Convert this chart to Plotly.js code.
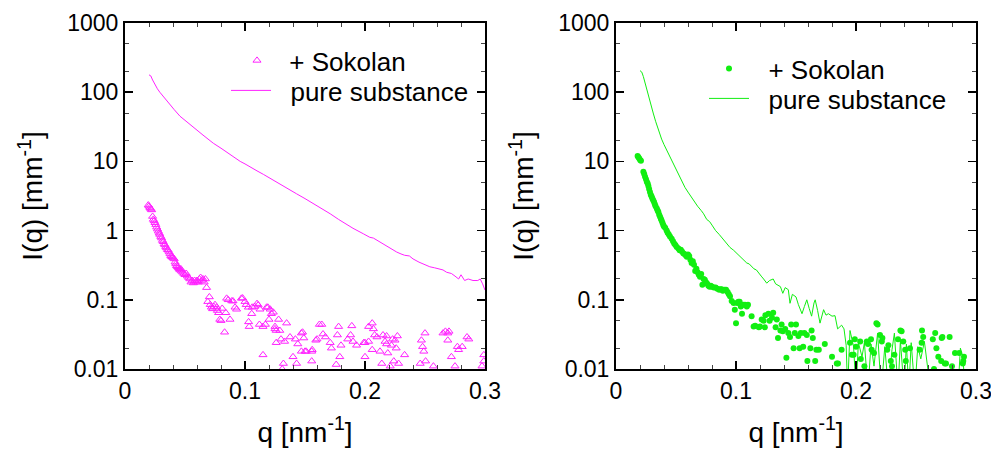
<!DOCTYPE html>
<html>
<head>
<meta charset="utf-8">
<script src="https://cdn.plot.ly/plotly-3.0.1.min.js"></script>
<style>html,body{margin:0;padding:0;background:#fff;}#chart{width:991px;height:453px;}</style>
</head>
<body>
<div id="chart"></div>
<script>
// ---------- Left panel (magenta) ----------
const leftPureQ = [0.020,0.0215,0.023,0.025,0.027,0.029,0.032,0.035,0.038,0.041,0.0458,0.050,0.055,0.0597,0.065,0.070,0.0736,0.080,0.0875,0.092,0.096,0.100,0.105,0.110,0.1153,0.120,0.125,0.129,0.135,0.143,0.150,0.157,0.164,0.171,0.178,0.185,0.190,0.1986,0.204,0.207,0.2125,0.218,0.2264,0.230,0.233,0.237,0.240,0.245,0.250,0.254,0.258,0.262,0.265,0.268,0.272,0.275,0.278,0.280,0.283,0.286,0.290,0.294,0.296,0.298,0.300];
const leftPureI = [178,172,150,128,112,100,86,74,64,56,45,39,33,28.4,24,20.5,18.3,15.5,12.5,11,10,9.2,8.1,7.3,6.5,5.8,5.2,4.7,4.1,3.4,2.9,2.45,2.1,1.75,1.45,1.22,1.08,0.90,0.80,0.78,0.68,0.60,0.49,0.46,0.44,0.43,0.39,0.35,0.32,0.30,0.29,0.28,0.27,0.25,0.24,0.22,0.20,0.23,0.19,0.20,0.19,0.19,0.20,0.17,0.138];

const leftSokQ = [0.0194,0.0200,0.0208,0.0215,0.0222,0.0230,0.0236,0.0243,0.0250,0.0257,0.0264,0.0271,0.0278,0.0285,0.0290,0.0298,0.0305,0.0312,0.0319,0.0326,0.0333,0.0340,0.0347,0.0354,0.0360,0.0368,0.0375,0.0382,0.0390,0.0396,0.0403,0.0410,0.0417,0.0424,0.0430,0.0438,0.0445,0.0452,0.0458,0.0465,0.0470,0.0480,0.0490,0.0500,0.0510,0.0520,0.0530,0.0540,0.0550,0.0560,0.0570,0.0580,0.0590,0.0600,0.0610,0.0620,0.0630,0.0640,0.0650,0.0660,0.0670,0.0680,0.0703,0.0690,0.0710,0.0720,0.0730,0.0740,0.0750,0.0764,0.0770,0.0780,0.0790,0.0800,0.0810,0.0830,0.0840,
0.0847,0.0860,0.0875,0.0890,0.0900,0.0917,0.0930,0.0970,0.0980,0.1000,0.1010,0.1028,0.1030,0.1035,0.1056,0.1060,0.1080,0.1100,0.1110,0.1125,0.1120,0.1150,0.1150,0.1170,0.1180,0.1190,0.1200,0.1210,0.1220,0.1236,0.1250,0.1250,0.1260,0.1260,0.1280,0.1290,0.1300,0.1310,0.1320,0.1330,0.1347,0.1375,0.1400,0.1420,0.1430,0.1440,0.1470,0.1470,0.1480,0.1490,0.1500,0.1510,0.1556,0.1556,0.1560,0.1590,0.1600,0.1620,0.1640,0.1650,0.1670,0.1710,0.1720,0.1760,0.1770,0.1780,0.1790,0.1800,0.1856,0.1880,0.1890,0.1900,0.1930,0.1990,0.2000,0.2000,0.2030,0.2030,0.2060,0.2060,0.2070,0.2080,0.2100,0.2125,0.2140,0.2150,0.2167,0.2180,0.2180,0.2190,0.2210,0.2220,0.2230,0.2240,0.2250,0.2260,0.2270,0.2280,0.2330,0.2460,0.2470,0.2480,0.2490,0.2500,0.2505,0.2570,0.2650,0.2670,0.2690,0.2690,0.2700,0.2720,0.2750,0.2770,0.2780,0.2810,0.2850,0.2865,0.2975,0.2990,0.2990];
const leftSokI = [2.34,2.25,2.15,2.05,1.99,1.60,1.45,1.38,1.30,1.22,1.12,1.05,0.98,0.92,0.88,0.82,0.78,0.72,0.69,0.64,0.62,0.58,0.56,0.53,0.52,0.49,0.46,0.43,0.42,0.41,0.40,0.39,0.35,0.33,0.31,0.30,0.29,0.28,0.27,0.28,0.26,0.25,0.24,0.23,0.24,0.22,0.21,0.20,0.18,0.19,0.175,0.19,0.18,0.19,0.18,0.20,0.21,0.19,0.20,0.18,0.20,0.15,0.11,0.094,0.085,0.078,0.074,0.080,0.085,0.078,0.070,0.065,0.052,0.050,0.075,0.034,0.065,
0.105,0.100,0.052,0.096,0.096,0.078,0.073,0.105,0.106,0.094,0.085,0.078,0.048,0.041,0.063,0.078,0.080,0.088,0.084,0.073,0.044,0.041,0.016,0.044,0.078,0.078,0.052,0.073,0.063,0.066,0.041,0.038,0.036,0.024,0.052,0.036,0.027,0.010,0.012,0.025,0.046,0.029,0.015,0.027,0.012,0.023,0.033,0.018,0.034,0.028,0.018,0.018,0.018,0.013,0.019,0.026,0.027,0.044,0.044,0.032,0.029,0.024,0.020,0.0116,0.031,0.041,0.015,0.022,0.027,0.031,0.042,0.025,0.022,0.024,0.015,0.024,0.041,0.025,0.046,0.019,0.038,0.031,0.029,0.018,0.012,0.031,0.025,0.030,0.023,0.017,0.011,0.022,0.027,0.013,0.026,0.020,0.030,0.012,0.016,0.012,0.026,0.021,0.018,0.033,0.013,0.011,0.033,0.035,0.033,0.026,0.035,0.015,0.011,0.021,0.019,0.021,0.029,0.027,0.011,0.013,0.016];

// ---------- Right panel (green) ----------
const rightPureQ = [0.0200,0.0215,0.0228,0.0250,0.0270,0.0290,0.0310,0.0330,0.0353,0.0380,0.0400,0.0422,0.0450,0.0480,0.0506,0.0530,0.0555,0.0575,0.0600,0.0630,0.0655,0.0680,0.0710,0.0730,0.0756,0.0780,0.0800,0.0830,0.0860,0.0890,0.0922,0.0950,0.0980,0.1006,0.1030,0.1060,0.1090,0.1110,0.1130,0.1150,0.1170,0.1190,0.1210,0.1230,0.1256,0.1280,0.1310,0.1330,0.1350,0.1370,0.1390,0.1410,0.1436,0.1450,0.1470,0.1500,0.1520,0.1550,0.1570,0.1590,0.1610,0.1630,0.1650,0.1660,0.1680,0.1700,0.1730,0.1750,0.1770,0.1800,0.1825,0.1847,0.1880,0.1900,0.1918,0.1930,0.1950,0.1980,0.2000,0.2020,0.2050,0.2070,0.2100,0.2125,0.2150,0.2180,0.2210,0.2240,0.2270,0.2300,0.2320,0.2350,0.2370,0.2400,0.2420,0.2440,0.2460,0.2490,0.2515,0.2540,0.2570,0.2590,0.2620,0.2700,0.2850,0.2870,0.2890,0.2910];
const rightPureI = [205,195,168,120,86,65,50,38,28.4,21,17.5,14.6,11.5,9.2,7.5,6.1,5.0,4.2,3.6,3.0,2.6,2.25,1.95,1.75,1.45,1.35,1.2,1.0,0.88,0.76,0.66,0.57,0.52,0.47,0.43,0.37,0.34,0.33,0.30,0.28,0.27,0.24,0.22,0.20,0.174,0.19,0.20,0.17,0.16,0.155,0.124,0.15,0.14,0.089,0.12,0.11,0.085,0.063,0.08,0.10,0.075,0.058,0.09,0.10,0.07,0.046,0.072,0.06,0.063,0.058,0.059,0.038,0.043,0.038,0.022,0.005,0.036,0.021,0.005,0.024,0.015,0.024,0.005,0.023,0.011,0.033,0.005,0.021,0.005,0.019,0.033,0.005,0.026,0.005,0.023,0.005,0.024,0.005,0.021,0.014,0.025,0.014,0.005,null,0.005,0.020,0.015,0.005];

const rightSokQ = [0.0180,0.0187,0.0194,0.0201,0.0208,0.0228,0.0235,0.0242,0.0250,0.0257,0.0264,0.0270,0.0276,0.0283,0.0290,0.0297,0.0303,0.0310,0.0317,0.0324,0.0330,0.0340,0.0347,0.0353,0.0360,0.0367,0.0374,0.0380,0.0387,0.0394,0.0400,0.0410,0.0422,0.0430,0.0440,0.0450,0.0464,0.0475,0.0485,0.0495,0.0506,0.0520,0.0530,0.0540,0.0550,0.0560,0.0570,0.0580,0.0590,0.0600,0.0610,0.0620,0.0630,0.0640,0.0650,0.0660,0.0670,0.0680,0.0690,0.0700,0.0710,0.0720,0.0730,0.0740,0.0750,0.0760,0.0770,0.0780,0.0790,0.0800,0.0815,0.0830,0.0845,0.0860,0.0870,0.0880,0.0890,0.0905,0.0917,0.0930,0.0940,0.0950,0.0964,0.0980,0.0990,0.1000,0.1010,0.1020,0.1030,0.1040,0.1050,0.1060,0.1075,0.1090,0.1100,0.1130,0.1147,0.1160,0.1190,0.1200,0.1214,0.1230,0.1240,0.1245,0.1270,0.1280,0.1300,0.1310,0.1330,0.1340,0.1350,0.1370,0.1380,0.1390,0.1410,0.1420,0.1436,0.1450,0.1460,0.1480,0.1490,0.1500,0.1520,0.1530,0.1540,0.1560,0.1570,0.1590,0.1595,0.1620,0.1630,0.1640,0.1660,0.1670,0.1690,0.1740,0.1800,0.1840,0.1850,0.1880,0.1950,0.1965,0.1980,0.1990,0.2000,0.2035,0.2040,0.2070,0.2090,0.2100,0.2125,0.2130,0.2150,0.2170,0.2180,0.2200,0.2215,0.2220,0.2260,0.2270,0.2290,0.2300,0.2320,0.2350,0.2370,0.2380,0.2394,0.2410,0.2415,0.2450,0.2530,0.2547,0.2550,0.2560,0.2640,0.2650,0.2660,0.2670,0.2686,0.2710,0.2714,0.2720,0.2740,0.2750,0.2780,0.2800,0.2825,0.2860,0.2890,0.2894,0.2900];
const rightSokI = [12,11.5,11,10.5,10.2,7.1,6.6,6.0,5.5,5.1,4.8,4.4,4.0,3.6,3.3,3.1,2.9,2.75,2.6,2.4,2.25,2.09,1.95,1.85,1.7,1.58,1.48,1.4,1.3,1.2,1.15,1.1,1.0,0.93,0.88,0.82,0.76,0.70,0.65,0.62,0.58,0.55,0.52,0.53,0.50,0.47,0.46,0.44,0.42,0.45,0.43,0.38,0.34,0.36,0.32,0.26,0.28,0.25,0.23,0.215,0.235,0.165,0.20,0.195,0.18,0.17,0.16,0.155,0.16,0.155,0.15,0.15,0.145,0.14,0.142,0.142,0.135,0.14,0.14,0.13,0.12,0.113,0.096,0.09,0.072,0.046,0.09,0.094,0.094,0.08,0.063,0.085,0.085,0.08,0.085,0.058,0.041,0.042,0.040,0.041,0.052,0.050,0.040,0.060,0.063,0.050,0.055,0.065,0.040,0.052,0.028,0.036,0.044,0.035,0.038,0.0145,0.033,0.029,0.044,0.020,0.033,0.044,0.030,0.020,0.033,0.021,0.033,0.031,0.013,0.020,0.036,0.028,0.013,0.019,0.019,0.023,0.015,0.012,0.012,0.019,0.024,0.016,0.016,0.027,0.021,0.025,0.014,0.011,0.025,0.023,0.027,0.019,0.017,0.046,0.044,0.031,0.025,0.028,0.019,0.022,0.013,0.011,0.016,0.027,0.036,0.035,0.025,0.019,0.013,0.020,0.019,0.024,0.036,0.029,0.027,0.010,0.033,0.020,0.015,0.013,0.028,0.029,0.012,0.012,0.029,0.011,0.017,0.017,0.012,0.013,0.015];

const yTickVals = [0.01,0.1,1,10,100,1000];
const yTickText = ['0.01','0.1','1','10','100','1000'];
const xTickVals = [0,0.1,0.2,0.3];
const xTickText = ['0','0.1','0.2','0.3'];
const nameSok = '+ Sokolan';
const namePure = 'pure substance';

const magenta = '#ff22ff';
const green = '#11ee11';
const FONT = 'Liberation Sans, Arial, sans-serif';
const NB = '\u00a0';

const traces = [
  {x:leftSokQ, y:leftSokI, type:'scatter', mode:'markers', name:NB+nameSok, xaxis:'x', yaxis:'y', legend:'legend',
   marker:{symbol:'triangle-up-open', size:7, color:magenta, line:{width:1, color:magenta}}},
  {x:leftPureQ, y:leftPureI, type:'scatter', mode:'lines', name:NB+NB+namePure, xaxis:'x', yaxis:'y', legend:'legend2',
   line:{color:magenta, width:1}},
  {x:rightSokQ, y:rightSokI, type:'scatter', mode:'markers', name:NB+NB+nameSok, xaxis:'x2', yaxis:'y2', legend:'legend3',
   marker:{symbol:'circle', size:6, color:green}},
  {x:rightPureQ, y:rightPureI, type:'scatter', mode:'lines', name:NB+NB+namePure, xaxis:'x2', yaxis:'y2', legend:'legend4',
   line:{color:green, width:1}}
];

function xax(domain, anchor){
  return {domain:domain, anchor:anchor, range:[0,0.3], tickvals:xTickVals, ticktext:xTickText, ticklabeloverflow:'allow',
    ticks:'inside', ticklen:8, tickwidth:1.5, tickcolor:'#000', mirror:'allticks', showline:true, linewidth:2, linecolor:'#000',
    showgrid:false, zeroline:false, tickfont:{size:23, family:FONT, color:'#000'},
    minor:{ticks:'inside', ticklen:4, tickwidth:1, tickcolor:'#444', dtick:0.02, tick0:0, showgrid:false},
    title:{text:'q [nm<sup>-1</sup>]', font:{size:28, family:FONT, color:'#000'}, standoff:20}};
}
function yax(anchor){
  return {domain:[0,1], anchor:anchor, type:'log', range:[-2,3], tickvals:yTickVals, ticktext:yTickText,
    ticks:'inside', ticklen:8, tickwidth:1.5, tickcolor:'#000', mirror:'allticks', showline:true, linewidth:2, linecolor:'#000',
    showgrid:false, zeroline:false, tickfont:{size:23, family:FONT, color:'#000'},
    minor:{ticks:'inside', ticklen:4, tickwidth:1, tickcolor:'#444', showgrid:false},
    title:{text:'I(q) [mm<sup>-1</sup>]', font:{size:28, family:FONT, color:'#000'}, standoff:16}};
}
function leg(xpx, ypx){
  return {x:xpx/991, y:1-(ypx-23)/346, xanchor:'left', yanchor:'top', bgcolor:'rgba(0,0,0,0)', borderwidth:0,
    font:{size:26, family:FONT, color:'#000'}, tracegroupgap:0, itemwidth:40};
}

const layout = {
  width:991, height:453,
  margin:{l:0, r:0, t:23, b:84},
  paper_bgcolor:'#fff', plot_bgcolor:'#fff',
  font:{family:FONT, color:'#000'},
  xaxis: xax([125/991, 485/991], 'y'),
  yaxis: yax('x'),
  xaxis2: xax([616/991, 976/991], 'y2'),
  yaxis2: yax('x2'),
  showlegend:true,
  legend: leg(232, 37),
  legend2: leg(226, 67),
  legend3: leg(704, 45),
  legend4: leg(704, 75)
};

Plotly.newPlot('chart', traces, layout, {displayModeBar:false, staticPlot:true});
</script>
</body>
</html>
